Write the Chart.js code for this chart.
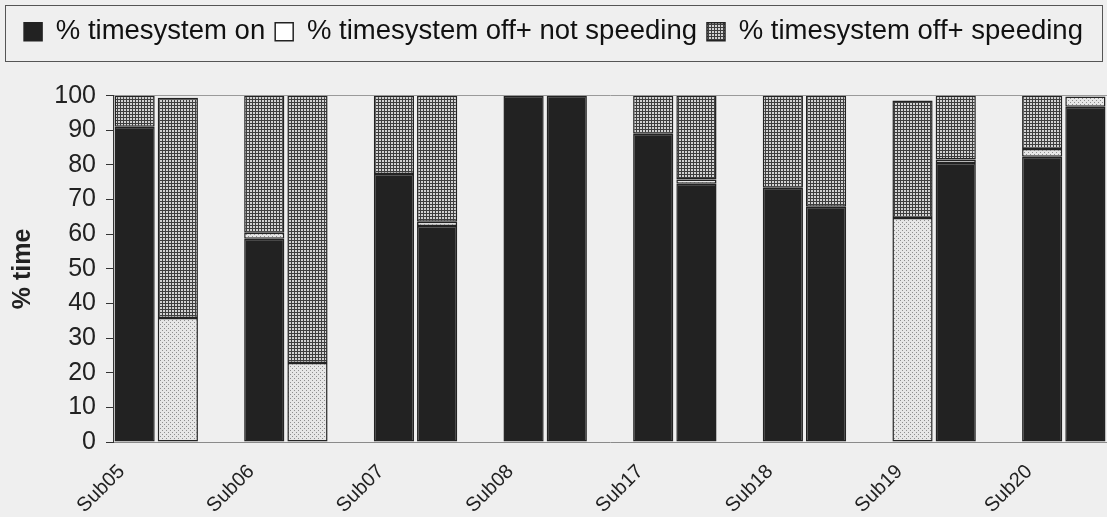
<!DOCTYPE html>
<html>
<head>
<meta charset="utf-8">
<script src="https://cdn.jsdelivr.net/npm/chart.js@4/dist/chart.umd.min.js"></script>
<style>
html,body{margin:0;padding:0;background:#efefef;}
canvas{display:block;}
</style>
</head>
<body>
<canvas id="c" width="1107" height="517"></canvas>
<script>
// ---- data ----
const subjects = ['Sub05','Sub06','Sub07','Sub08','Sub17','Sub18','Sub19','Sub20'];
const seriesNames = ['% timesystem on','% timesystem off+ not speeding','% timesystem off+ speeding'];
// two bars per subject
const timesystemOn   = [91, 0,    58.7, 0,    77.4, 62.4, 100, 100, 89, 74.6, 73.4, 67.9, 0,    80.6, 82.4, 96.8];
const offNotSpeeding = [0,  35.8, 1.7,  22.8, 0,    1.2,  0,   0,   0,  1.2,  0,    0,    64.7, 1.0,  2.2,  3.0];
const offSpeeding    = [9,  63.6, 39.6, 77.2, 22.6, 36.4, 0,   0,   11, 24.2, 26.6, 32.1, 33.9, 18.4, 15.4, 0];
const yTicks = [0,10,20,30,40,50,60,70,80,90,100];

// build slots: pair of bars + empty gap slot between subjects
function slotLabels(){
  const out = [];
  subjects.forEach((s,i)=>{ out.push(s,''); if(i<subjects.length-1) out.push(''); });
  return out;
}
function toSlots(vals){
  const out = [];
  subjects.forEach((s,i)=>{ out.push(vals[2*i], vals[2*i+1]); if(i<subjects.length-1) out.push(null); });
  return out;
}

const canvas = document.getElementById('c');
const ctx = canvas.getContext('2d');
function makePattern(size, bg, fg, pixels){
  const c = document.createElement('canvas');
  c.width = size; c.height = size;
  const x = c.getContext('2d');
  x.fillStyle = bg; x.fillRect(0,0,size,size);
  x.fillStyle = fg;
  pixels.forEach(p=>x.fillRect(p[0],p[1],1,1));
  return ctx.createPattern(c,'repeat');
}
const gridPattern = makePattern(3,'#d2d2d2','#3e3e3e',[[0,0],[1,0],[2,0],[0,1],[0,2]]);
const dotPattern  = makePattern(4,'#e6e6e6','#8e8e8e',[[0,0],[2,2]]);

const FONT = "'Liberation Sans', Arial, sans-serif";

const bgPlugin = {
  id:'bg',
  beforeDraw(chart){
    const c = chart.ctx;
    c.save(); c.fillStyle = '#efefef'; c.fillRect(0,0,chart.width,chart.height); c.restore();
  },
  afterDraw(chart){
    const lg = chart.legend, c = chart.ctx;
    c.save();
    c.strokeStyle = '#555'; c.lineWidth = 1;
    c.strokeRect(5.5, lg.top - 2.5, chart.width - 10, 56);
    c.restore();
  }
};

const common = { borderColor:'#222', borderWidth:1.5, borderSkipped:false, barPercentage:0.93, categoryPercentage:1.0 };

new Chart(ctx, {
  type:'bar',
  data:{
    labels: slotLabels(),
    datasets:[
      Object.assign({label:seriesNames[0], data:toSlots(timesystemOn), backgroundColor:'#222222'}, common),
      Object.assign({label:seriesNames[1], data:toSlots(offNotSpeeding), backgroundColor:dotPattern}, common),
      Object.assign({label:seriesNames[2], data:toSlots(offSpeeding), backgroundColor:gridPattern}, common)
    ]
  },
  options:{
    responsive:false,
    animation:false,
    devicePixelRatio:1,
    layout:{padding:{top:8,left:0,right:0,bottom:0}},
    plugins:{
      tooltip:{enabled:false},
      title:{display:true, text:'', weight:500, font:{size:1}, padding:{top:0,bottom:39}},
      legend:{
        position:'top',
        labels:{
          boxWidth:18, boxHeight:18, padding:10, color:'#111',
          font:{family:FONT, size:27.5},
          generateLabels(chart){
            const items = Chart.defaults.plugins.legend.labels.generateLabels(chart);
            items[1].fillStyle = '#ffffff';
            items.forEach(it=>{ it.strokeStyle = '#222'; it.lineWidth = 1.5; });
            return items;
          }
        }
      }
    },
    scales:{
      x:{
        stacked:true,
        afterFit(scale){ scale.height = 75; scale.paddingRight = 0; scale.paddingLeft = 0; },
        grid:{display:false, drawTicks:false},
        border:{display:true, color:'#8a8a8a', width:1},
        ticks:{autoSkip:false, minRotation:45, maxRotation:45, padding:18, labelOffset:-13, color:'#222', font:{family:FONT, size:20}}
      },
      y:{
        stacked:true, min:0, max:100,
        afterFit(scale){ scale.width = 113; },
        afterBuildTicks(scale){ scale.ticks = yTicks.map(v=>({value:v})); },
        ticks:{autoSkip:false, padding:10, color:'#222', font:{family:FONT, size:25}},
        grid:{
          color:(c)=> (c.tick && c.tick.value===100) ? '#9a9a9a' : 'rgba(0,0,0,0)',
          tickColor:'#333', tickLength:7, drawOnChartArea:true
        },
        border:{display:true, color:'#333', width:1},
        title:{display:true, text:'% time', color:'#222', font:{family:FONT, size:25, weight:'bold'}, padding:{top:8,bottom:10}}
      }
    }
  },
  plugins:[bgPlugin]
});
</script>
</body>
</html>
